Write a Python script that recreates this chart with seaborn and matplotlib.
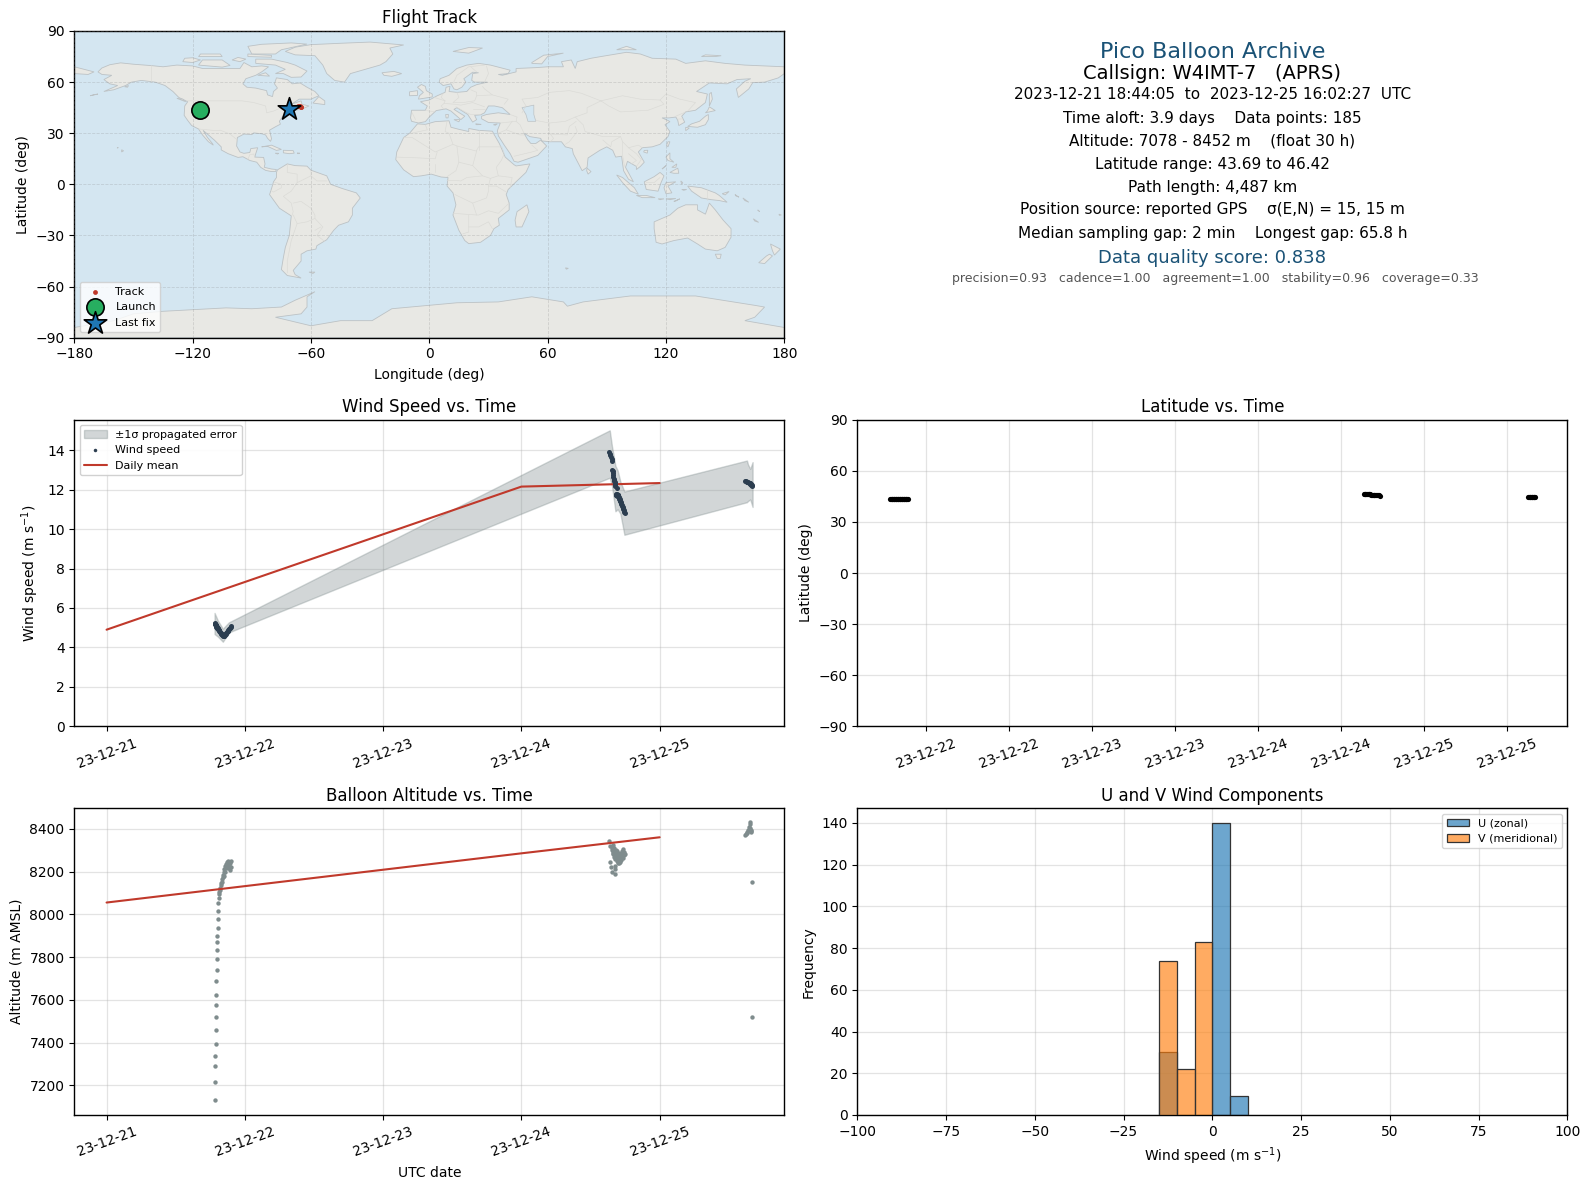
import numpy as np
import pandas as pd
import matplotlib
matplotlib.use("Agg")
import matplotlib.pyplot as plt
import matplotlib.dates as mdates
import seaborn as sns

# ---------- flight data (days since 2023-12-21 00:00 UTC) ----------
c1_t = [.783,.784,.786,.787,.788,.790,.791,.792,.794,.795,.796,.798,.799,.800,.802,.803,.804,.806,.807,
        .810,.813,.816,.820,.823,.826,.829,.833,.836,.839,.842,.846,.849,.852,.855,.859,.862,.865,.868,.872,.875,.878,.881,.885,.888,.891,.894,.898,.901]
c1_wind = [5.22,5.2,5.18,5.17,5.15,5.13,5.12,5.1,5.08,5.06,5.05,5.03,5.02,5.0,4.99,4.97,4.96,4.94,4.93,
           4.9,4.87,4.84,4.8,4.77,4.73,4.7,4.66,4.63,4.61,4.6,4.58,4.6,4.62,4.64,4.67,4.7,4.73,4.76,4.79,4.82,4.85,4.88,4.91,4.94,4.97,5.0,5.03,5.07]
c1_alt = [7130,7214,7289,7340,7396,7457,7518,7574,7625,7686,7742,7793,7835,7872,7900,7938,7980,8017,8055,
          8075,8096,8105,8115,8125,8135,8145,8150,8165,8175,8185,8197,8180,8210,8200,8228,8215,8235,8225,8243,8230,8250,8215,8245,8230,8205,8240,8220,8250]
c2_t = [3.636,3.640,3.644,3.648,3.652,3.656,3.658,3.660,3.662,3.664,3.666,3.668,3.670,3.672,3.674,3.676,3.678,3.680,
        3.682,3.684,3.686,3.688,3.690,3.692,3.694,3.696,3.698,3.700,3.702,3.704,3.706,3.708,3.710,3.712,
        3.714,3.717,3.720,3.723,3.726,3.729,3.732,3.735,3.738,3.741,3.744,3.747]
c2_wind = [13.9,13.8,13.75,13.65,13.55,13.45,13.0,12.95,12.85,12.75,12.65,12.55,12.5,12.45,12.4,12.3,12.25,12.2,
           11.75,11.8,11.72,11.7,11.78,11.68,12.08,11.75,11.7,11.72,11.65,11.6,11.55,11.5,11.5,11.42,
           11.4,11.35,11.3,11.25,11.2,11.15,11.1,11.05,11.0,10.95,10.88,10.81]
c2_alt = [8342,8320,8244,8220,8197,8300,8310,8285,8322,8295,8280,8310,8270,8290,8260,8228,8213,8190,
          8275,8300,8262,8285,8250,8275,8295,8255,8270,8240,8285,8252,8265,8240,8280,8260,
          8245,8270,8285,8255,8298,8270,8305,8280,8265,8290,8275,8283]
c3_t = [4.620,4.625,4.630,4.635,4.640,4.645,4.650,4.653,4.656,4.659,4.662,4.664,4.666,4.668]
c3_wind = [12.42,12.42,12.40,12.38,12.36,12.35,12.33,12.32,12.30,12.28,12.26,12.24,12.22,12.2]
c3_alt = [8372,8375,8378,8385,8395,8410,8430,8420,8405,8395,8388,8384,8149,7518]

lat_t = [.786,.790,.794,.798,.802,.806,.810,.814,.818,.822,.826,.830,.834,.838,.842,.846,.850,.854,.858,.862,.866,.870,.874,.878,.882,.886,.890,
         3.636,3.641,3.646,3.651,3.656,3.661,3.666,3.671,3.676,3.681,3.686,3.691,3.696,3.701,3.706,3.711,3.716,3.721,3.726,3.733,
         4.628,4.632,4.636,4.640,4.644,4.648,4.652,4.656,4.660,4.664,4.667]
lat_v = [43.7,43.7,43.7,43.7,43.7,43.7,43.7,43.7,43.7,43.7,43.7,43.7,43.7,43.7,43.7,43.7,43.7,43.7,43.7,43.7,43.7,43.7,43.7,43.7,43.7,43.7,43.7,
         46.42,46.4,46.36,46.32,46.28,46.24,46.2,46.16,46.12,46.08,46.04,46.0,45.95,45.9,45.85,45.8,45.72,45.64,45.56,45.45,
         44.75,44.75,44.75,44.75,44.75,44.75,44.75,44.75,44.75,44.75,44.75]

track_lon = [-116.1,-115.8,-115.2,-114.6,-66.5,-66.0,-65.5,-65.2,-65.0,-71.5,-71.2,-71.0]
track_lat = [43.7,43.8,43.8,43.85,46.0,45.9,45.7,45.6,45.5,44.95,44.9,44.5]
launch_pos = (-116.1, 43.7)
last_pos = (-71.0, 44.5)

band_t = [.781,.805,.841,.884,3.639,3.655,3.68,3.696,3.716,3.745,4.631,4.639,4.655,4.672]
band_hi = [5.75,5.36,4.95,5.27,15.0,14.2,13.2,12.97,12.4,11.9,13.47,13.27,13.05,13.39]
band_lo = [4.68,4.55,4.29,4.76,12.6,12.2,10.9,11.0,10.78,9.71,11.36,11.42,11.5,11.12]

daily_t = [0, 3, 4]
daily_wind = [4.9, 12.15, 12.33]
daily_alt = [8055, 8285, 8360]

hist_edges = [-15, -10, -5, 0, 5, 10]
hist_u = [30, 0, 0, 140, 9]
hist_v = [74, 22, 83, 0, 0]

info_lines = [
    "Pico Balloon Archive",
    "Callsign: W4IMT-7   (APRS)",
    "2023-12-21 18:44:05  to  2023-12-25 16:02:27  UTC",
    "Time aloft: 3.9 days    Data points: 185",
    "Altitude: 7078 - 8452 m    (float 30 h)",
    "Latitude range: 43.69 to 46.42",
    "Path length: 4,487 km",
    "Position source: reported GPS    σ(E,N) = 15, 15 m",
    "Median sampling gap: 2 min    Longest gap: 65.8 h",
    "Data quality score: 0.838",
    "precision=0.93   cadence=1.00   agreement=1.00   stability=0.96   coverage=0.33",
]

# ---------- basemap outlines (lon, lat) ----------
LAND = [
 [(-168,66),(-166,68.3),(-162,70.2),(-156.5,71.3),(-150,70.5),(-141,69.7),(-135,69),(-128,70),(-120,69.5),(-115,68),(-108,68),(-100,68),(-96,68),(-94,71.5),(-90,69),(-85,69.5),(-81.5,69),(-85,66),(-88,64),(-93,62),(-94.5,59),(-92.5,57),(-88,56.5),(-82.5,55),(-82,52.5),(-79.5,51.5),(-79,54.5),(-77,56.5),(-78.5,59),(-77.5,62.5),(-72,61.5),(-69.5,59),(-65.5,59.5),(-62,57),(-58,54.5),(-56,52),(-60,50),(-66,50),(-70,47),(-65,49),(-64.5,47),(-61,46),(-64,44.5),(-66,43.8),(-70,43.5),(-70.5,41.7),(-74,40.5),(-76,37),(-75.5,35.3),(-78,33.8),(-81,31.8),(-80,26.8),(-80.5,25.2),(-82,27),(-83,29),(-85,29.7),(-89,30.2),(-90,29.2),(-94,29.5),(-97.3,27.5),(-97.7,22.5),(-96,19),(-94,18.2),(-91,18.7),(-90.5,21),(-87,21.5),(-88,18),(-88.5,16),(-84,15.8),(-83.3,12),(-83.7,10),(-80,9),(-77.5,8.7),(-78,7.5),(-80,7.5),(-83,8.2),(-85.5,10),(-87.5,13),(-91,14),(-94.5,16.2),(-97,15.8),(-102,18),(-105.5,20.2),(-105.5,22),(-109,26),(-112.5,29.5),(-114.7,31.7),(-112.5,27.5),(-110,24),(-109.5,23),(-112,25),(-115,29),(-117,32.5),(-120.5,34.5),(-122.5,37.5),(-124.3,40.5),(-124,46),(-122.5,48.5),(-127,51),(-130,54.5),(-134,58),(-139,60),(-146,61),(-151,60),(-154,58),(-160,55.5),(-165,54.5),(-158,58),(-162,59),(-165,61.5),(-161,64),(-166,64.5)],
 [(-73,78),(-68,76),(-58,75.5),(-54,70),(-52,65),(-48,61),(-43,60),(-40,65),(-25,70),(-22,72),(-18.5,76.5),(-20,80),(-13,81.8),(-30,83.5),(-45,82.8),(-60,82),(-68,80.5)],
 [(-80,73.5),(-72,71.5),(-68,70),(-62,66.5),(-65,63),(-70,62.8),(-74,65),(-78,65),(-73,67.5),(-78,70),(-88,71),(-88,73.5)],
 [(-117,70),(-105,68.8),(-101,69.8),(-105,73),(-115,73)],
 [(-125,72),(-120,71.5),(-116,73),(-120,74.3),(-124,74)],
 [(-90,76.5),(-78,76.5),(-75,79),(-62,82.3),(-70,83),(-85,82.2),(-92,81)],
 [(-92,75),(-80,74.6),(-80,75.7),(-92,76.5)],
 [(-117,75),(-105,75),(-106,76.5),(-116,76.5)],
 [(-100,73),(-96,72),(-93,73.5),(-97,74.5)],
 [(-87,64),(-81,63.5),(-83,65.5)],
 [(-59,47.7),(-53,46.8),(-53,49),(-56,51.5)],
 [(-128,50.5),(-123.5,48.5),(-125,50)],
 [(-85,22),(-80,23),(-75,20.5),(-77.5,19.9),(-82,22.3)],
 [(-74,18.5),(-74,20),(-69,19.8),(-68.5,18.3),(-71,18)],
 [(-78,18.3),(-76.3,18.2),(-77,17.8)],
 [(-67,18.4),(-65.7,18.3),(-66.5,18)],
 [(-156,19),(-155,19.7),(-156,20.3)],
 [(-158.3,21.5),(-157.7,21.6),(-158,21.3)],
 [(-154.5,57.3),(-152.5,58),(-153,57)],
 [(-172,52),(-168,53),(-170,52.6)],
 [(-77,8.5),(-72,12),(-68,11),(-62,10.7),(-60,8.3),(-52,5),(-50,0),(-44,-2.5),(-37,-5),(-35,-8),(-39,-14),(-39,-18),(-41,-22),(-46,-24),(-48.5,-27),(-52,-32.5),(-57,-36),(-57.5,-38),(-62,-39),(-65,-41),(-65,-45),(-69,-50.5),(-68,-53),(-65,-55),(-72,-53.5),(-75,-50),(-74,-43),(-73,-37),(-71,-30),(-70,-18.5),(-76,-14),(-81,-6),(-80,-2.5),(-79,1.5),(-77.5,4),(-77.5,7)],
 [(-61,-51.5),(-58,-51.5),(-59,-52.3)],
 [(-6,35.5),(-2,35.2),(3,36.8),(10,37.3),(11,33.5),(15,32.3),(20,31),(20,32.8),(25,31.7),(32,31.2),(33,29),(35.5,24),(37,20),(38.5,16),(43,11.5),(44,10.8),(51,12),(49,7),(44,1.5),(40,-3),(39,-6),(40.5,-11),(40.5,-15),(35,-20),(35.5,-24),(32.8,-26),(31,-30),(26,-34),(20,-34.8),(18,-33),(15,-27),(12,-18),(13.5,-12),(12,-5),(9,-1),(9.5,4),(6,4.3),(1,6),(-4,5),(-8,4.5),(-13,8.5),(-17,14.5),(-16.5,19),(-13,27.5),(-10,30)],
 [(49.5,-12),(50.5,-16),(47,-25),(44,-25),(43.5,-21),(44.5,-16)],
 [(-9,37),(-9.5,39),(-9,43.5),(-2,43.5),(-1,46),(-4.5,48.5),(0,49.5),(4,52),(8,54),(8.5,57),(10.5,57.5),(10,54.5),(14,54),(19,54.5),(21,57),(24,58.5),(29.5,60),(23,60),(21.5,61),(22,65),(25,65.5),(22,65.8),(17.5,62),(18.5,60),(16.5,57),(14,55.5),(12.5,56),(11,59),(7,58),(5,60),(5.5,62),(10,64),(14,68),(19,70),(25,71),(31,70),(41,67),(40,65),(35,64.5),(37,64),(44,66),(44,68),(54,68.5),(60,69),(68,69),(67,72),(72,73),(74,68),(75,72),(82,74),(87,75),(100,77.5),(107,76.5),(113,74),(125,73.5),(130,71),(140,72.5),(150,71),(160,70),(170,69.5),(180,69),(180,65),(177,62.5),(170,60),(164,59.7),(162,56),(156.7,51),(155.7,56),(160,60.5),(163,62),(156,61.5),(151,59),(142,59.5),(135.5,54.5),(141,53),(140,48),(135,43.5),(130,42.5),(128,40),(129.5,36.5),(126.5,34.5),(126,37.5),(125,39.5),(121.5,39),(118,39),(121,37.5),(122,36.8),(119.5,35),(122,31),(121,28),(117,23.5),(113,22),(108,21.5),(106,19),(109,13),(107,10.5),(105,8.7),(105,10.5),(100.5,13.5),(99.5,10),(103.5,1.5),(101,3),(98.5,8),(97.5,16.5),(94.5,16),(93,20),(90,22),(86.5,20),(80.5,15.5),(80,10),(77.5,8),(73,18),(72.5,21),(69,22),(67,25),(61,25),(57,25.5),(56.5,27),(51,28),(48,30),(50,26),(51.5,24),(54,24),(56.5,26),(59.5,22.5),(55,17),(45,13),(43,13.5),(41,18),(38,23),(35,28.5),(34.5,31.5),(36,36),(30,36.3),(26.5,38.5),(26.5,40),(29,41),(35,42),(41,41),(37,45),(33,46),(30,46),(28,42),(26,40.8),(23,40.5),(24,38),(22,36.5),(19.5,41),(14,45),(12.5,44),(18,40),(16,38),(11,43),(8.5,44.3),(3.5,43.3),(0,39.5),(-2,36.8),(-5.5,36)],
 [(-180,69),(-175,67.5),(-170,66),(-173,64.5),(-180,65)],
 [(-5.5,50),(1.5,51.3),(1.5,53),(-1.5,55),(-2,57.5),(-4,58.6),(-6,57),(-3,54),(-5,52)],
 [(-10,52),(-6,52.2),(-6,55),(-10,54.3)],
 [(-24,65.5),(-18,66.3),(-14,65),(-19,63.4),(-23,64)],
 [(12,78),(20,80.3),(27,80),(20,77)],
 [(52,71),(57,70.7),(60,75),(68,77),(58,75.8),(52,71.5)],
 [(12.5,38),(15.5,38),(15,36.7)],
 [(8.3,41),(9.7,41),(9.5,39),(8.5,39)],
 [(23.5,35.5),(26.3,35.2),(24,35)],
 [(32.5,35),(34.5,35.5),(33.5,34.7)],
 [(95,79),(105,79),(100,81)],
 [(138,75),(145,75),(148,75.5),(140,76)],
 [(142,46),(143.5,50),(143,54),(142,53)],
 [(131,34),(136,33.5),(140,35),(141.5,38),(141.5,41),(140,40),(137,37),(133,35.5)],
 [(140,42),(145,43.3),(142,45.5),(141,43)],
 [(130,31.5),(131.8,33),(130,33.5)],
 [(120.3,23),(121,22),(122,25),(121,25)],
 [(108.7,19),(110.5,18.3),(110.8,20),(109,19.9)],
 [(80,9.5),(82,7.5),(80.5,6),(79.8,8)],
 [(120,16),(122,18.5),(122,15),(124,13),(121,14)],
 [(122,7),(126,9.5),(126.5,6.5),(124,6.5)],
 [(118,9),(120,11),(119,10)],
 [(123,10),(125.5,12),(125,10)],
 [(109,1.5),(114,4.5),(117,7),(119,5),(117.5,1),(116,-4),(110,-3)],
 [(95,5.5),(98,4),(104,-2),(106,-5.8),(102,-4),(98,1)],
 [(105,-6.5),(110,-6.5),(114.5,-7.8),(108,-7.8)],
 [(120,1),(125,1.5),(121,-1),(123,-5),(120,-5.5),(119,-2)],
 [(116,-8.5),(119,-8.5),(117,-9)],
 [(120,-8.5),(125,-8.3),(122,-9)],
 [(124,-10),(127,-8.5),(125,-9.8)],
 [(128,-3),(130.5,-3),(129,-3.5)],
 [(127.5,2),(128.5,1),(128,0)],
 [(131,-1),(138,-2),(145,-5),(147,-6.5),(151,-10.5),(147,-9.5),(143,-9),(138,-8),(133,-4)],
 [(148.5,-5.5),(152,-4.2),(150,-6.2)],
 [(155,-6),(157,-7.5),(155.5,-6.8)],
 [(159,-8),(162,-10.5),(160,-9.5)],
 [(166.5,-15),(167.5,-16),(167,-15.5)],
 [(164.3,-20.2),(167,-22.3),(165,-21.5)],
 [(177.3,-17.5),(178.5,-18),(177.5,-18.2)],
 [(114,-22),(122,-18),(126,-14),(130,-12),(136,-12),(136,-15),(140,-17.5),(142,-11),(145,-15),(149,-21),(153,-26),(153,-31),(150,-37),(146,-39),(140,-38),(136,-35),(131,-31.5),(124,-33),(118,-35),(115,-34),(114,-26)],
 [(145,-41),(148,-41),(147.5,-43.5),(146,-43.5)],
 [(173,-35),(178,-38),(175,-41.5),(174,-39)],
 [(172.5,-41),(174,-42),(170,-46.5),(167,-46),(171,-42)],
 [(69,-49),(70.5,-49.3),(69.5,-49.8)],
 [(-180,-90),(-180,-84),(-160,-80),(-150,-76),(-135,-74.5),(-103,-72.5),(-90,-73),(-75,-72),(-68,-68),(-58,-63),(-62,-66),(-62,-72),(-65,-76),(-78,-78),(-60,-83),(-45,-80),(-29,-80),(-19,-73),(14,-69.5),(35,-69),(52,-66),(68,-69),(70,-71.5),(78,-69),(102,-65.5),(135,-65.5),(165,-71),(170,-72),(165,-78),(160,-80),(180,-84),(180,-90)],
]
LAKES = [
 [(47,45),(53,46.5),(53,41),(54,37),(50,37),(49,41)],
]
BORDERS = [
 [(-123,49),(-95,49),(-89,48),(-83,46),(-82.5,42),(-79,43),(-75,45),(-70,46),(-67.5,47),(-67,45)],
 [(-141,60),(-141,70)],
 [(-117,32.5),(-108,31.5),(-106,31.8),(-101,29.5),(-97.3,26)],
 [(-92,14.5),(-91,17.5),(-89,17.8),(-88.5,16)],
 [(-72,12),(-72,7),(-67,6),(-67,1),(-70,-4),(-74,-7),(-70,-11),(-69,-16),(-69.5,-18)],
 [(-67,1),(-60,5),(-60,8)],
 [(-78.5,1.3),(-75,0),(-75,-2),(-79,-4.5),(-80.5,-3.5)],
 [(-69,-11),(-65,-10),(-60,-14),(-58,-18),(-58,-20),(-54,-25),(-57,-30),(-53,-33.5)],
 [(-69,-18),(-67,-23),(-70,-33),(-72,-45),(-72,-52)],
 [(-67,-23),(-62,-22),(-58,-20)],
 [(-58,-27),(-55,-25)],
 [(-52,2),(-57,2),(-60,5)],
 [(-9,30),(-1,32),(-2,35)],
 [(-13,27.5),(-8.7,27.5),(3,19),(12,23.5),(14,22.5),(24,19.5),(24,20),(25,22),(36.8,22)],
 [(9,37),(8,31),(10,30),(12,23.5)],
 [(25,31.7),(25,20)],
 [(-16.5,16),(-5,15.5),(3,15),(4,19)],
 [(3,12),(3,7)],
 [(14,22.5),(15,13),(13.5,8),(9,4.5)],
 [(24,19.5),(22,11),(27,5),(31,3.5),(35,5),(42,4),(41,-2)],
 [(15,13),(22,11)],
 [(36.8,22),(38,18),(36.5,14),(34,10),(35,5)],
 [(27,5),(19,4),(16,2),(13,2.3),(9,2.3)],
 [(30,-1),(30,-4),(29,-8),(22,-11),(13,-6)],
 [(34,-1),(30,-1),(31,3.5)],
 [(34,-1),(39,-4.5)],
 [(12,-17),(24,-18),(25,-18),(30,-15.5),(35,-17),(40.5,-11)],
 [(22,-11),(24,-18)],
 [(20,-18),(20,-28),(17,-29)],
 [(20,-25),(25,-25),(30,-22),(32,-26)],
 [(-1.5,43.3),(3,42.5)],
 [(-8.7,42),(-7,38)],
 [(2.5,51),(8,49),(7.5,47.5),(6,46),(7.5,44)],
 [(7,53.5),(6,51),(8,49)],
 [(14,54),(15,51),(12,48),(17,48),(23,49),(24,52),(24,54),(21,55.5)],
 [(7.5,47.5),(13,47),(16,46.5),(22,48),(28,45.5)],
 [(13.5,45.5),(19,42),(21,41),(26,41)],
 [(22,44),(28,44)],
 [(24,52),(32,52.5),(40,50),(38,47)],
 [(28,60),(30,65),(29,69.5)],
 [(12,59),(14,64),(20,69),(28,70)],
 [(24,66),(21,69)],
 [(27,57.5),(28,56),(32,52.5)],
 [(47,42),(49,46),(47,50),(55,51),(61,54),(71,55),(77,53.5),(87,49)],
 [(87,49),(98,52),(107,50),(117,49.5),(120,53),(127,50),(135,48),(131,43)],
 [(87,49),(91,46),(97,42.5),(111,43.5),(119,47),(117,49.5)],
 [(87,49),(80,45),(80,42),(74,39.5),(78,35),(79,31),(88,28),(97,28),(98,25),(101,21.5),(106,23),(108,21.5)],
 [(74,39.5),(69,37),(61,36),(54,37.5)],
 [(61,36),(61,30),(63,27),(61.5,25)],
 [(74.5,37),(71,34),(70,29),(61,29.5)],
 [(74,34),(75,31),(71,25),(69,23.5)],
 [(88,26),(92,22),(92.5,25),(97,28)],
 [(98,25),(98,17),(99,10.5)],
 [(101,21.5),(105,18),(107.5,14.5),(105,10.5)],
 [(101,18),(105,14),(102.5,12)],
 [(44.5,39.5),(44,37),(46,35),(48,30)],
 [(36,36),(44,37)],
 [(41,41),(44.5,39.5)],
 [(39,32),(46,29),(48,29)],
 [(35,30),(39,32),(42,37)],
 [(43,16.5),(52,19),(55,20),(52,23)],
 [(141,-2.5),(141,-9)],
 [(117,4),(114,1),(110,1)],
 [(125,40),(130,42.5)],
 [(126,38.3),(128.5,38.4)],
]

# ---------- helpers ----------
BASE = pd.Timestamp("2023-12-21")
def to_dates(days):
    return BASE + pd.to_timedelta(np.asarray(days, dtype=float), unit="D")

flight = pd.DataFrame({
    "t": to_dates(c1_t + c2_t + c3_t),
    "wind": c1_wind + c2_wind + c3_wind,
    "alt": c1_alt + c2_alt + c3_alt,
})
lat_df = pd.DataFrame({"t": to_dates(lat_t), "lat": lat_v})
daily = pd.DataFrame({"t": to_dates(daily_t), "wind": daily_wind, "alt": daily_alt})
band_dates = to_dates(band_t)

RED = "#c0392b"
DARK = "#2c3e50"
GREY = "#7f8c8d"
NAVY = "#1a5276"

sns.set_style("ticks")
plt.rcParams.update({
    "font.family": ["DejaVu Sans"],
    "axes.linewidth": 1.0,
    "text.color": "black",
    "axes.labelcolor": "black",
    "axes.edgecolor": "black",
    "xtick.color": "black",
    "ytick.color": "black",
    "axes.titlepad": 5.5,
    "axes.labelpad": 4.0,
})
W, H = 1589, 1189
fig = plt.figure(figsize=(W / 100, H / 100), dpi=100)

def make_ax(l, r, t, b):
    return fig.add_axes([l / W, 1 - b / H, (r - l) / W, (b - t) / H])

XL, XR, XL2, XR2 = 74.3, 784.3, 857.3, 1567.3
R1, R2, R3 = (31, 337.7), (419.7, 726.4), (808.4, 1115)
ax_map = make_ax(XL, XR, *R1)
ax_txt = make_ax(XL2, XR2, *R1)
ax_wind = make_ax(XL, XR, *R2)
ax_lat = make_ax(XL2, XR2, *R2)
ax_alt = make_ax(XL, XR, *R3)
ax_hist = make_ax(XL2, XR2, *R3)

def grid(ax):
    ax.grid(True, color="#b0b0b0", alpha=0.35, linewidth=0.9)
    ax.set_axisbelow(True)

def label_sizes(ax):
    ax.tick_params(labelsize=10, length=3.5, width=0.8, bottom=True, left=True)
    ax.xaxis.labelpad = 5.0

def date_axis(ax, lim, locator):
    ax.set_xlim(*mdates.date2num(to_dates(lim)))
    ax.xaxis.set_major_locator(locator)
    ax.xaxis.set_major_formatter(mdates.DateFormatter("%y-%m-%d"))

# ---------- map ----------
ax_map.set_facecolor("#d4e6f1")
for poly in LAND:
    xs, ys = zip(*poly)
    ax_map.fill(xs, ys, facecolor="#e8e8e4", edgecolor="#bcc2c5", linewidth=0.6, zorder=1)
for poly in LAKES:
    xs, ys = zip(*poly)
    ax_map.fill(xs, ys, facecolor="#d4e6f1", edgecolor="#bcc2c5", linewidth=0.5, zorder=1.1)
for line in BORDERS:
    xs, ys = zip(*line)
    ax_map.plot(xs, ys, color="#dadad6", linewidth=0.45, zorder=1.2)
ax_map.grid(True, color="gray", alpha=0.25, linewidth=0.6, linestyle="--", zorder=1.5)
ax_map.set_axisbelow(False)
sns.scatterplot(x=track_lon, y=track_lat, color=RED, s=12, linewidth=0, label="Track", ax=ax_map, zorder=3)
sns.scatterplot(x=[launch_pos[0]], y=[launch_pos[1]], color="#27ae60", s=155, marker="o",
                edgecolor="black", linewidth=1.2, label="Launch", ax=ax_map, zorder=4)
sns.scatterplot(x=[last_pos[0]], y=[last_pos[1]], color="#1f77b4", s=290, marker="*",
                edgecolor="black", linewidth=1.2, label="Last fix", ax=ax_map, zorder=5)
ax_map.set_xlim(-180, 180)
ax_map.set_ylim(-90, 90)
ax_map.set_xticks(range(-180, 181, 60))
ax_map.set_yticks(range(-90, 91, 30))
ax_map.set_xlabel("Longitude (deg)", fontsize=10)
ax_map.set_ylabel("Latitude (deg)", fontsize=10)
ax_map.set_title("Flight Track", fontsize=12)
ax_map.legend(loc="lower left", fontsize=8, framealpha=0.8)
label_sizes(ax_map)

# ---------- info panel ----------
ax_txt.axis("off")
ys_seen = [51, 72, 93, 116, 138, 161, 184, 206, 229, 254, 274]
xs_panel = [0.5] * 10 + [0.5045]
sizes = [16, 14, 11, 11, 11, 11, 11, 11, 11, 13, 9]
cols = [NAVY, "black", "black", "black", "black", "black", "black", "black", "black", NAVY, "#555555"]
for line, x, y, fs, c in zip(info_lines, xs_panel, ys_seen, sizes, cols):
    ax_txt.text(x, (332 - y) / 302, line, ha="center", va="center", fontsize=fs, color=c,
                transform=ax_txt.transAxes)

# ---------- wind ----------
ax_wind.fill_between(band_dates, band_lo, band_hi, color=GREY, alpha=0.35, label="±1σ propagated error", zorder=2)
sns.scatterplot(data=flight, x="t", y="wind", color=DARK, s=13, linewidth=0, label="Wind speed", ax=ax_wind, zorder=4)
sns.lineplot(data=daily, x="t", y="wind", color=RED, linewidth=1.5, label="Daily mean", estimator=None,
             errorbar=None, ax=ax_wind, zorder=3)
ax_wind.set_ylim(0, 15.54)
ax_wind.set_yticks(range(0, 15, 2))
ax_wind.set_xlabel("")
ax_wind.set_ylabel("Wind speed (m s$^{-1}$)", fontsize=10)
ax_wind.set_title("Wind Speed vs. Time", fontsize=12)
date_axis(ax_wind, (-0.2334, 4.9014), mdates.DayLocator())
grid(ax_wind)
ax_wind.legend(loc="upper left", fontsize=8, framealpha=0.9, markerscale=0.7)
label_sizes(ax_wind)

# ---------- latitude ----------
sns.scatterplot(data=lat_df, x="t", y="lat", color="black", s=14, linewidth=0, ax=ax_lat, zorder=3)
ax_lat.set_ylim(-90, 90)
ax_lat.set_yticks(range(-90, 91, 30))
ax_lat.set_xlabel("")
ax_lat.set_ylabel("Latitude (deg)", fontsize=10)
ax_lat.set_title("Latitude vs. Time", fontsize=12)
date_axis(ax_lat, (0.5862, 4.8624), mdates.HourLocator(byhour=[0, 12]))
grid(ax_lat)
label_sizes(ax_lat)

# ---------- altitude ----------
sns.scatterplot(data=flight, x="t", y="alt", color=GREY, s=10, linewidth=0, ax=ax_alt, zorder=3)
sns.lineplot(data=daily, x="t", y="alt", color=RED, linewidth=1.5, estimator=None, errorbar=None, ax=ax_alt, zorder=4)
ax_alt.set_ylim(7062, 8495)
ax_alt.set_yticks(range(7200, 8401, 200))
ax_alt.set_xlabel("UTC date", fontsize=10)
ax_alt.set_ylabel("Altitude (m AMSL)", fontsize=10)
ax_alt.set_title("Balloon Altitude vs. Time", fontsize=12)
date_axis(ax_alt, (-0.2334, 4.9014), mdates.DayLocator())
grid(ax_alt)
label_sizes(ax_alt)

# ---------- histogram ----------
centers = [(a + b) / 2 for a, b in zip(hist_edges[:-1], hist_edges[1:])]
sns.histplot(x=centers, weights=hist_u, bins=hist_edges, color="#1f77b4", alpha=0.65, edgecolor="#333333",
             linewidth=0.9, label="U (zonal)", ax=ax_hist, zorder=3)
sns.histplot(x=centers, weights=hist_v, bins=hist_edges, color="#ff7f0e", alpha=0.65, edgecolor="#333333",
             linewidth=0.9, label="V (meridional)", ax=ax_hist, zorder=3)
ax_hist.set_xlim(-100, 100)
ax_hist.set_ylim(0, 147)
ax_hist.set_xticks(range(-100, 101, 25))
ax_hist.set_yticks(range(0, 141, 20))
ax_hist.set_xlabel("Wind speed (m s$^{-1}$)", fontsize=10)
ax_hist.set_ylabel("Frequency", fontsize=10)
ax_hist.set_title("U and V Wind Components", fontsize=12)
grid(ax_hist)
ax_hist.legend(loc="upper right", fontsize=8)
label_sizes(ax_hist)

for ax in (ax_wind, ax_lat, ax_alt):
    plt.setp(ax.get_xticklabels(), rotation=20, ha="center")

fig.savefig("out.png", dpi=100)
